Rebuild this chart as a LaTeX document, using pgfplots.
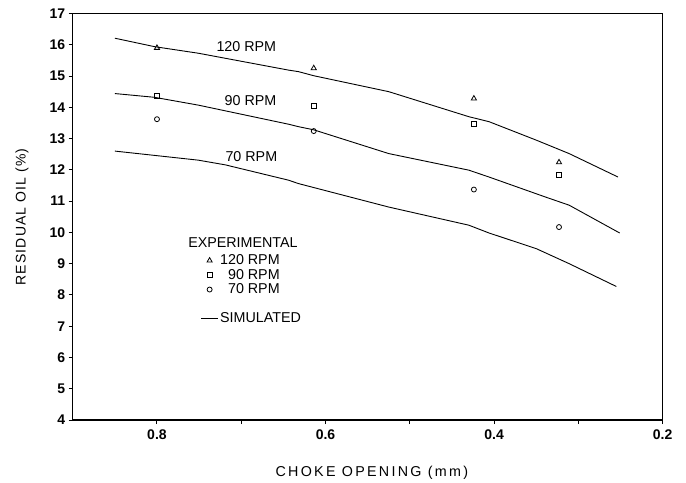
\documentclass[border=0pt]{standalone}
\usepackage{fontspec}
\setmainfont{Liberation Sans}
\usepackage{pgfplots}
\pgfplotsset{compat=1.18}
\begin{document}
\begin{tikzpicture}
\begin{axis}[
 scale only axis, width=590pt, height=406.5pt,
 at={(0,0)}, anchor=south west,
 xmin=0.2, xmax=0.9, ymin=4, ymax=17, x dir=reverse,
 xtick={0.2,0.4,0.6,0.8}, xticklabels={0.2,0.4,0.6,0.8}, minor xtick={0.3,0.5,0.7},
 ytick={4,5,...,17},
 tick align=outside, xtick pos=bottom, ytick pos=left,
 major tick length=4pt, minor tick length=4pt,
 axis line style={line width=1.2pt},
 tick style={line width=1pt, black},
 ticklabel style={font=\fontsize{14}{14}\selectfont\bfseries},
 xticklabel style={yshift=-2pt},
 /pgf/number format/assume math mode=true,
 clip=false,
 xlabel={\addfontfeatures{LetterSpace=16}CHOKE OPENING (mm)},
 xlabel style={at={(rel axis cs:0.507,-0.130)}, anchor=center, font=\fontsize{14.3}{14.3}\selectfont},
 ylabel={\addfontfeatures{LetterSpace=8}RESIDUAL OIL (\%)},
 ylabel style={at={(rel axis cs:-0.0859,0.4994)}, anchor=center, font=\fontsize{14}{14}\selectfont},
 legend style={draw=none, fill=none, at={(axis cs:0.752,9.40)}, anchor=north west,
   font=\fontsize{14.3}{14.3}\selectfont, row sep=0pt, nodes={inner sep=1.5pt}},
 legend cell align=left,
]
% simulated curves
\addplot[black, line width=0.9pt, forget plot] coordinates {
 (0.850,16.21) (0.803,15.94) (0.751,15.73) (0.644,15.19) (0.632,15.14) (0.614,15.01)
 (0.525,14.50) (0.430,13.70) (0.406,13.54) (0.350,12.95) (0.311,12.52) (0.253,11.77)};
\addplot[black, line width=0.9pt, forget plot] coordinates {
 (0.850,14.44) (0.803,14.32) (0.751,14.07) (0.644,13.46) (0.632,13.38) (0.614,13.28)
 (0.525,12.52) (0.430,11.99) (0.406,11.77) (0.339,11.13) (0.311,10.87) (0.251,9.98)};
\addplot[black, line width=0.9pt, forget plot] coordinates {
 (0.850,12.60) (0.751,12.31) (0.719,12.16) (0.644,11.67) (0.632,11.56) (0.525,10.81)
 (0.430,10.23) (0.406,9.98) (0.350,9.48) (0.311,9.00) (0.255,8.27)};
% experimental
\addplot[only marks, mark=triangle, mark size=3pt, black, mark options={line width=0.8pt}, forget plot] coordinates {
 (0.800,15.90) (0.614,15.25) (0.424,14.28) (0.323,12.24)};
\addplot[only marks, mark=square, mark size=2.3pt, black, mark options={line width=0.8pt}, forget plot] coordinates {
 (0.800,14.36) (0.614,14.04) (0.424,13.46) (0.323,11.83)};
\addplot[only marks, mark=o, mark size=2.5pt, black, mark options={line width=0.8pt}, forget plot] coordinates {
 (0.800,13.62) (0.614,13.24) (0.424,11.37) (0.323,10.17)};
% legend
\addlegendimage{only marks, mark=triangle, mark size=3pt, black, mark options={line width=0.8pt}}
\addlegendentry{120 RPM}
\addlegendimage{only marks, mark=square, mark size=2.3pt, black, mark options={line width=0.8pt}}
\addlegendentry{\phantom{1}90 RPM}
\addlegendimage{only marks, mark=o, mark size=2.5pt, black, mark options={line width=0.8pt}}
\addlegendentry{\phantom{1}70 RPM}
\addlegendimage{empty legend}
\addlegendentry{\vphantom{X}}
\addlegendimage{black, line width=0.9pt}
\addlegendentry{SIMULATED}
% labels
\node[font=\fontsize{14.3}{14.3}\selectfont] at (axis cs:0.694,15.94) {120 RPM};
\node[font=\fontsize{14.3}{14.3}\selectfont] at (axis cs:0.689,14.20) {90 RPM};
\node[font=\fontsize{14.3}{14.3}\selectfont] at (axis cs:0.688,12.41) {70 RPM};
\node[font=\fontsize{14.3}{14.3}\selectfont] at (axis cs:0.698,9.68) {EXPERIMENTAL};
\end{axis}
\useasboundingbox (-72.7pt,-60pt) rectangle (613.3pt,420pt);
\end{tikzpicture}
\end{document}
